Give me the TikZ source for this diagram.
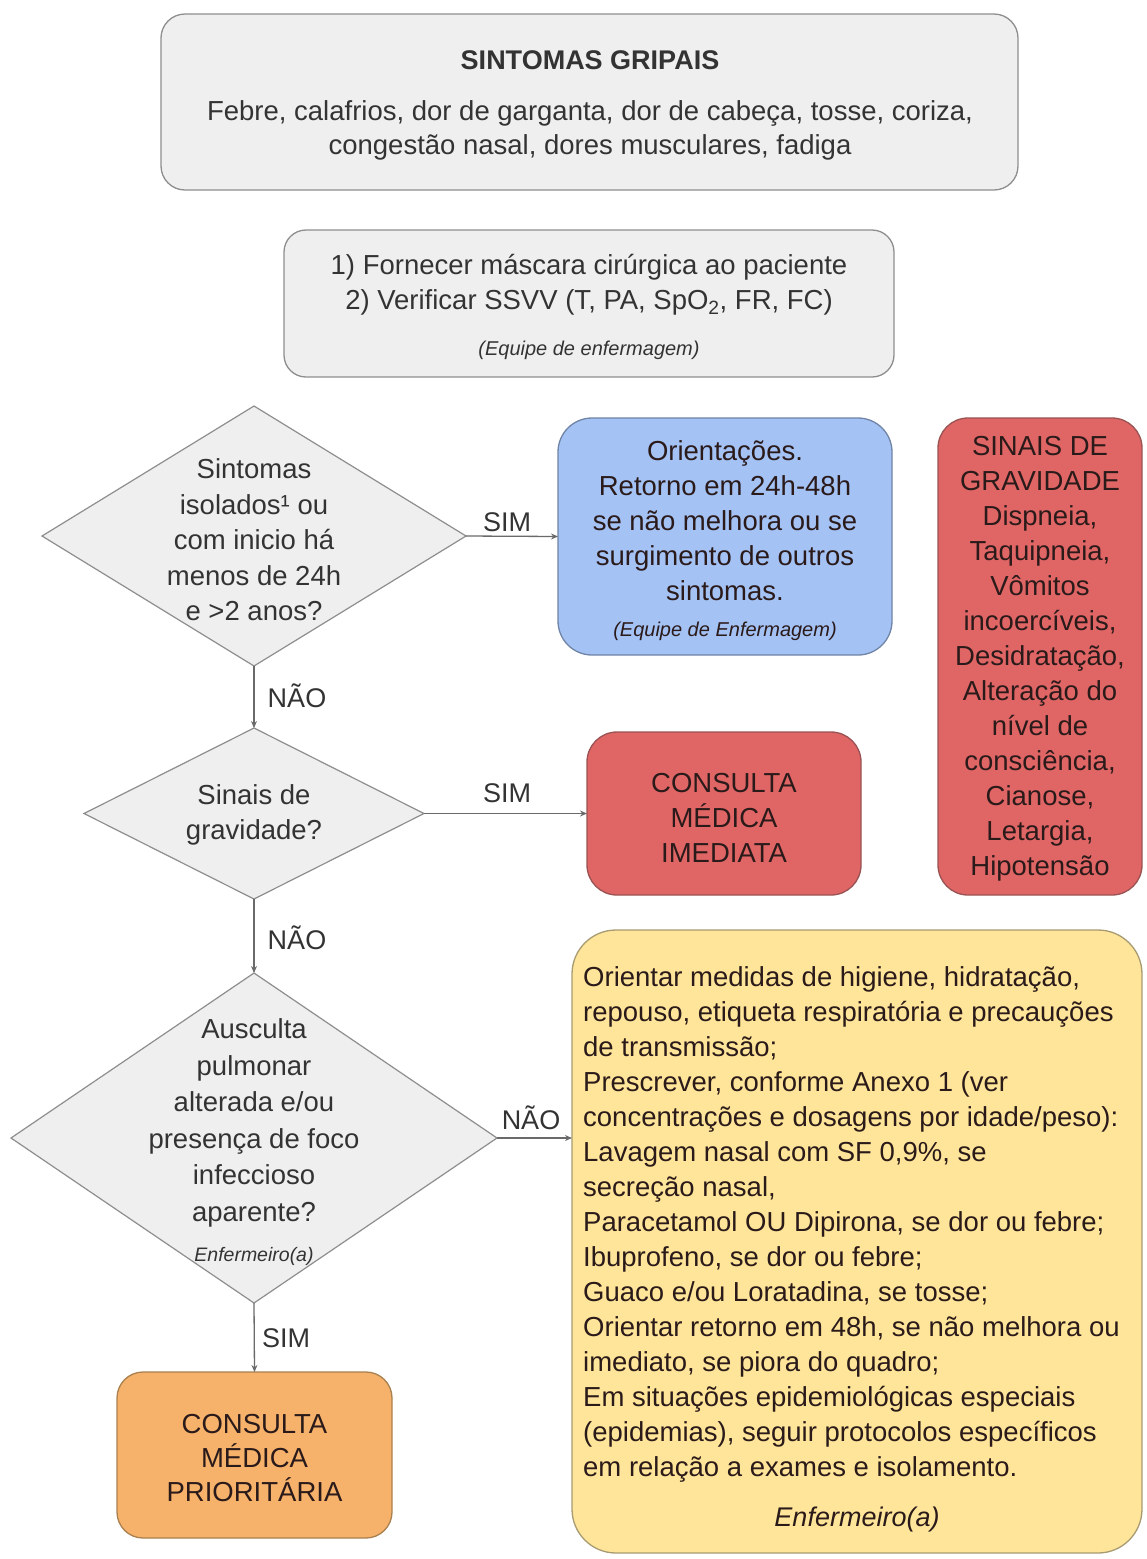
\documentclass[tikz,border=0pt]{standalone}
\usepackage{fontspec}
\setmainfont{Liberation Sans}
\usetikzlibrary{shapes.geometric,arrows.meta}

\definecolor{grayfill}{HTML}{EFEFEF}
\definecolor{grayline}{HTML}{8E8E8E}
\definecolor{txt}{HTML}{333333}
\definecolor{bluefill}{HTML}{A4C2F4}
\definecolor{blueline}{HTML}{6F84A6}
\definecolor{redfill}{HTML}{E06666}
\definecolor{redline}{HTML}{9A5252}
\definecolor{orangefill}{HTML}{F6B26B}
\definecolor{orangeline}{HTML}{A9804F}
\definecolor{yellowfill}{HTML}{FFE599}
\definecolor{yellowline}{HTML}{A89B72}
\definecolor{darktxt}{HTML}{2A1A1A}
\definecolor{arrowcol}{HTML}{6A6A6A}

\tikzset{
  panel/.style={rectangle, rounded corners=#1, line width=1.3pt, inner sep=0pt, outer sep=0pt},
  graypanel/.style={panel=24pt, fill=grayfill, draw=grayline},
  decision/.style={diamond, fill=grayfill, draw=grayline, line width=1.2pt, inner sep=0pt, outer sep=0pt},
  maintext/.style={align=center, text=txt, inner sep=0pt, font=\fontsize{27.5}{35.5}\selectfont},
  darktext/.style={align=center, text=darktxt, inner sep=0pt, font=\fontsize{27.5}{35}\selectfont},
  smallital/.style={text=txt, inner sep=0pt, font=\fontsize{20}{24}\selectfont\itshape},
  branch/.style={text=txt, inner sep=0pt, text height=19.5pt, text depth=0pt, font=\fontsize{27}{32}\selectfont},
  flow/.style={draw=arrowcol, line width=1.3pt, -{Stealth[length=7pt,width=6pt]}}
}

\begin{document}
\begin{tikzpicture}[x=1pt,y=-1pt]
\useasboundingbox (0,0) rectangle (1147,1559);

% --- header boxes ---
\node[graypanel, minimum width=857pt, minimum height=176pt] (sintomas) at (589.5,102) {};
\node[maintext, font=\fontsize{27}{32}\selectfont\bfseries] (sintomasTitle) at (590,60) {SINTOMAS GRIPAIS};
\node[maintext, font=\fontsize{27.5}{34}\selectfont] (sintomasList) at (590,130)
  {Febre, calafrios, dor de garganta, dor de cabeça, tosse, coriza,\\congestão nasal, dores musculares, fadiga};

\node[graypanel, panel=22pt, minimum width=610pt, minimum height=147pt] (triagem) at (589,303.5) {};
\node[maintext, font=\fontsize{27.5}{35}\selectfont] (triagemText) at (589,285)
  {1) Fornecer máscara cirúrgica ao paciente\\2) Verificar SSVV (T, PA, SpO\textsubscript{2}, FR, FC)};
\node[smallital] (triagemWho) at (589,350) {(Equipe de enfermagem)};

% --- decisions ---
\node[decision, minimum width=424pt, minimum height=260pt] (q1) at (254,536) {};
\node[maintext] (q1text) at (254,540)
  {Sintomas\\isolados¹ ou\\com inicio há\\menos de 24h\\e >2 anos?};

\node[decision, minimum width=340pt, minimum height=171pt] (q2) at (254,813.5) {};
\node[maintext] (q2text) at (254,815) {Sinais de\\gravidade?};

\node[decision, minimum width=486pt, minimum height=330pt] (q3) at (254,1138) {};
\node[maintext, font=\fontsize{27.5}{36.5}\selectfont] (q3text) at (254,1123)
  {Ausculta\\pulmonar\\alterada e/ou\\presença de foco\\infeccioso\\aparente?};
\node[smallital, font=\fontsize{19.5}{24}\selectfont\itshape] (q3who) at (254,1256) {Enfermeiro(a)};

% --- outcome boxes ---
\node[panel=34pt, fill=bluefill, draw=blueline, minimum width=334pt, minimum height=237pt] (orient) at (725,536.5) {};
\node[maintext, text=darktxt, font=\fontsize{27.5}{35}\selectfont] (orientText) at (725,521)
  {Orientações.\\Retorno em 24h-48h\\se não melhora ou se\\surgimento de outros\\sintomas.};
\node[smallital, text=darktxt] (orientWho) at (725,631) {(Equipe de Enfermagem)};

\node[panel=30pt, fill=redfill, draw=redline, minimum width=274pt, minimum height=163pt] (imediata) at (724,813.5) {};
\node[darktext] (imediataText) at (724,818) {CONSULTA\\MÉDICA\\IMEDIATA};

\node[panel=30pt, fill=redfill, draw=redline, minimum width=204pt, minimum height=477pt] (sinais) at (1040,656.5) {};
\node[darktext, font=\fontsize{27.5}{35}\selectfont] (sinaisText) at (1040,659)
  {SINAIS DE\\GRAVIDADE\\Dispneia,\\Taquipneia,\\Vômitos\\incoercíveis,\\Desidratação,\\Alteração do\\nível de\\consciência,\\Cianose,\\Letargia,\\Hipotensão};

\node[panel=44pt, fill=yellowfill, draw=yellowline, minimum width=570pt, minimum height=623pt] (conduta) at (857,1241.5) {};
\node[darktext, align=left, anchor=west, font=\fontsize{27.5}{35}\selectfont] (condutaText) at (583,1224)
  {Orientar medidas de higiene, hidratação,\\
   repouso, etiqueta respiratória e precauções\\
   de transmissão;\\
   Prescrever, conforme Anexo 1 (ver\\
   concentrações e dosagens por idade/peso):\\
   Lavagem nasal com SF 0,9\%, se\\
   secreção nasal,\\
   Paracetamol OU Dipirona, se dor ou febre;\\
   Ibuprofeno, se dor ou febre;\\
   Guaco e/ou Loratadina, se tosse;\\
   Orientar retorno em 48h, se não melhora ou\\
   imediato, se piora do quadro;\\
   Em situações epidemiológicas especiais\\
   (epidemias), seguir protocolos específicos\\
   em relação a exames e isolamento.};
\node[darktext, font=\fontsize{27}{32}\selectfont\itshape] (condutaWho) at (857,1519) {Enfermeiro(a)};

\node[panel=26pt, fill=orangefill, draw=orangeline, minimum width=275pt, minimum height=166pt] (prioritaria) at (254.5,1455) {};
\node[darktext, font=\fontsize{27.5}{34}\selectfont] (prioritariaText) at (254.5,1458)
  {CONSULTA\\MÉDICA\\PRIORITÁRIA};

% --- connectors ---
\draw[flow] (q1.east) -- (orient.west);
\draw[flow] (q1.south) -- (q2.north);
\draw[flow] (q2.east) -- (imediata.west);
\draw[flow] (q2.south) -- (q3.north);
\draw[flow] (q3.east) -- (q3.east -| conduta.west);
\draw[flow] (q3.south) -- (prioritaria.north);

% --- branch labels ---
\node[branch, anchor=center] (simA) at (507,522) {SIM};
\node[branch, anchor=center] (naoA) at (297,698) {NÃO};
\node[branch, anchor=center] (simB) at (507,793) {SIM};
\node[branch, anchor=center] (naoB) at (297,940) {NÃO};
\node[branch, anchor=center] (naoC) at (531,1120) {NÃO};
\node[branch, anchor=center] (simC) at (286,1338) {SIM};
\end{tikzpicture}
\end{document}
